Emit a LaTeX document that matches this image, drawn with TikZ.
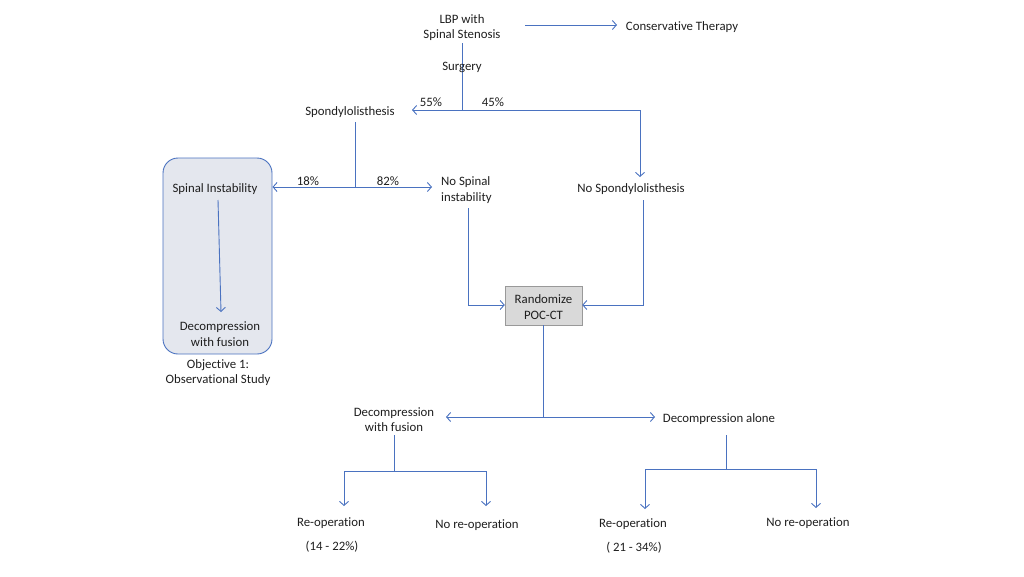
\documentclass[tikz,border=0pt]{standalone}
\usepackage{fontspec}
\setmainfont[Ligatures=NoCommon]{Carlito}
\usetikzlibrary{arrows.meta}
\definecolor{ln}{HTML}{4A72C0}
\definecolor{boxfill}{HTML}{E4E7EE}
\definecolor{graybox}{HTML}{D9D9D9}
\definecolor{txt}{HTML}{1E1E1E}
\begin{document}
\begin{tikzpicture}[x=1pt,y=-1pt,
  lbl/.style={font=\fontsize{12.8}{15.5}\selectfont, text=txt, align=center, inner sep=1pt, yshift=-1.5pt},
  conn/.style={draw=ln, line width=0.9pt},
  arr/.style={conn, -{Straight Barb[length=4pt,width=9pt]}}
]
\useasboundingbox (0,0) rectangle (1024,576);
% boxes
\node[draw=ln, fill=boxfill, rounded corners=15pt, line width=0.9pt, minimum width=109pt, minimum height=196pt] (obsbox) at (217.5,256) {};
\node[draw=gray!80, fill=graybox, line width=0.5pt, minimum width=77pt, minimum height=39pt, inner sep=0pt] (rand) at (543.5,305.5) {};
\node[lbl] at (rand.center) {Randomize\\POC-CT};
% texts
\node[lbl] (lbp) at (462,26) {LBP with\\Spinal Stenosis};
\node[lbl] (cons) at (682,26) {Conservative Therapy};
\node[lbl] (spondy) at (350,111) {Spondylolisthesis};
\node[lbl] (nospondy) at (631,188) {No Spondylolisthesis};
\node[lbl] (spinst) at (215,188) {Spinal Instability};
\node[lbl] (decfus1) at (220,332.5) {Decompression\\with fusion};
\node[lbl] (obj) at (218,371) {Objective 1:\\Observational Study};
\node[lbl, align=left, anchor=west] (nospinst) at (440,188.5) {No Spinal\\instability};
\node[lbl] (decfus2) at (394,418) {Decompression\\with fusion};
\node[lbl] (decal) at (719,418) {Decompression alone};
\node[lbl] (reop1) at (331,522) {Re-operation};
\node[lbl] (pct1) at (332,545) {(14 - 22\%)};
\node[lbl] (noreop1) at (477,524) {No re-operation};
\node[lbl] (reop2) at (633,523) {Re-operation};
\node[lbl] (pct2) at (634,546) {( 21 - 34\%)};
\node[lbl] (noreop2) at (808,522) {No re-operation};
% junction coordinates
\coordinate (j1) at (462,110);
\coordinate (j2) at (355,187);
\coordinate (j3) at (543,417);
\coordinate (j4) at (394,471);
\coordinate (j5) at (726,469);
\coordinate (consstart) at (525,25);
% connectors
\draw[arr] (consstart) -- (617,25);
\draw[conn] (462,43) -- (j1);
\node[lbl] (surg) at (462,66) {Surgery};
\draw[arr] (j1) -- (412,110);
\draw[arr] (j1) -- (640,110) -- (640,177);
\node[lbl] at (431,101) {55\%};
\node[lbl] at (493,101) {45\%};
\draw[conn] (355,122) -- (j2);
\draw[arr] (j2) -- (obsbox.east |- j2);
\draw[arr] (j2) -- (432,187);
\node[lbl] at (308,180) {18\%};
\node[lbl] at (388,180) {82\%};
\draw[arr] (218,200) -- (221,312);
\draw[arr] (468,208) -- (468,305) -- (rand.west |- 0,305);
\draw[arr] (643,200) -- (643,305) -- (rand.east |- 0,305);
\draw[conn] (rand.south -| j3) -- (j3);
\draw[arr] (j3) -- (446,417);
\draw[arr] (j3) -- (655,417);
\draw[conn] (394,435) -- (j4);
\draw[arr] (j4) -- (344,471) -- (344,506);
\draw[arr] (j4) -- (486,471) -- (486,506);
\draw[conn] (726,435) -- (j5);
\draw[arr] (j5) -- (645,469) -- (645,509);
\draw[arr] (j5) -- (816,469) -- (816,508);
\end{tikzpicture}
\end{document}
